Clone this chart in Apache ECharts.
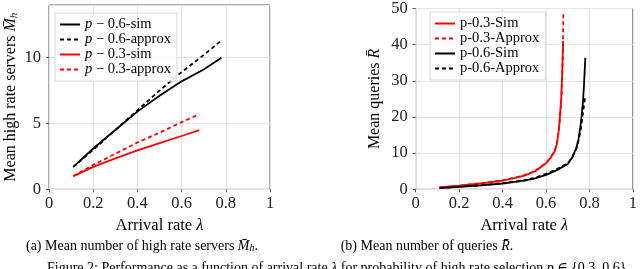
<!DOCTYPE html>
<html><head><meta charset="utf-8">
<script src="https://cdn.jsdelivr.net/npm/echarts@6/dist/echarts.min.js"></script>
<style>html,body{margin:0;padding:0;background:#fff}#c{width:640px;height:269px}</style>
</head><body><div id="c"></div>
<script>
// ---- Left panel: mean number of high rate servers ----
const lamA06 = [0.11, 0.2, 0.3, 0.4, 0.5, 0.6, 0.7, 0.78];
const mh06Sim = [1.7, 3.1, 4.5, 5.9, 7.1, 8.2, 9.1, 10.0];
const mh06Approx = [1.7, 3.0, 4.5, 6.0, 7.5, 8.9, 10.2, 11.3];
const lamA03 = [0.11, 0.2, 0.3, 0.4, 0.5, 0.6, 0.68];
const mh03Sim = [1.0, 1.7, 2.35, 2.95, 3.5, 4.05, 4.5];
const mh03Approx = [1.0, 1.85, 2.7, 3.55, 4.3, 5.1, 5.7];
// ---- Right panel: mean number of queries ----
const lamB03 = [0.11, 0.2, 0.3, 0.4, 0.45, 0.5, 0.55, 0.6, 0.62, 0.64, 0.65, 0.66, 0.67, 0.675, 0.679];
const r03Sim = [0.5, 1.0, 1.6, 2.4, 3.0, 3.8, 5.0, 7.2, 8.6, 10.5, 12.5, 17, 25, 33, 41];
const lamB03a = [0.11, 0.2, 0.3, 0.4, 0.45, 0.5, 0.55, 0.6, 0.62, 0.64, 0.65, 0.66, 0.67, 0.675, 0.678, 0.68];
const r03Approx = [0.5, 1.0, 1.7, 2.5, 3.1, 3.9, 5.1, 7.3, 8.7, 10.6, 12.5, 16.5, 24, 32, 40, 49];
const lamB06 = [0.11, 0.2, 0.3, 0.4, 0.5, 0.55, 0.6, 0.65, 0.7, 0.72, 0.74, 0.75, 0.76, 0.77, 0.775, 0.781];
const r06Sim = [0.3, 0.7, 1.1, 1.6, 2.4, 3.0, 4.0, 5.3, 7.0, 8.7, 11.5, 14, 18, 24, 29, 36.4];
const lamB06a = [0.11, 0.2, 0.3, 0.4, 0.5, 0.55, 0.6, 0.65, 0.7, 0.72, 0.74, 0.75, 0.76, 0.77, 0.78];
const r06Approx = [0.3, 0.7, 1.1, 1.7, 2.5, 3.2, 4.3, 5.6, 7.2, 8.8, 11.3, 13.5, 16.5, 21, 25.5];
const xTicks = [0, 0.2, 0.4, 0.6, 0.8, 1];

const zip = (xs, ys) => xs.map((x, i) => [x, ys[i]]);
const FONT = '"Liberation Serif", "DejaVu Serif", serif';
const RED = '#ff0000', BLACK = '#000000';
const AF = 16.5;
const YF = 16;

function xAxis(gi) {
  return {
    gridIndex: gi, type: 'value', min: 0, max: 1, interval: 0.2,
    name: 'Arrival rate {it|λ}', nameLocation: 'middle', nameGap: 22,
    nameTextStyle: { fontFamily: FONT, fontSize: AF, color: '#000',
      rich: { it: { fontFamily: FONT, fontStyle: 'italic', fontSize: AF, color: '#000' } } },
    axisLine: { show: false },
    axisTick: { show: true, length: 3, inside: false, lineStyle: { color: '#555' } },
    axisLabel: { fontFamily: FONT, fontSize: AF, color: '#222', margin: 6,
      formatter: v => xTicks.indexOf(v) >= 0 ? String(v) : '' },
    splitLine: { show: true, lineStyle: { color: '#e4e4e4', width: 1 } }
  };
}
function yAxis(gi, max, interval, name, rich, gap) {
  return {
    gridIndex: gi, type: 'value', min: 0, max: max, interval: interval,
    name: name, nameLocation: 'middle', nameGap: gap,
    nameTextStyle: { fontFamily: FONT, fontSize: YF, color: '#000', rich: rich },
    axisLine: { show: false },
    axisTick: { show: true, length: 3, lineStyle: { color: '#555' } },
    axisLabel: { fontFamily: FONT, fontSize: AF, color: '#222', margin: 8,
      showMaxLabel: gi === 1 },
    splitLine: { show: true, lineStyle: { color: '#e4e4e4', width: 1 } }
  };
}
function line(name, data, gi, color, dashed) {
  return {
    name: name, type: 'line', xAxisIndex: gi, yAxisIndex: gi, data: data,
    showSymbol: false, symbol: 'none', smooth: false,
    lineStyle: { color: color, width: 1.8, type: dashed ? [4, 3] : 'solid' },
    itemStyle: { color: color }, z: dashed ? 3 : 2
  };
}
const richIt = { it: { fontFamily: FONT, fontStyle: 'italic', fontSize: YF, color: '#000' } };
const LF = 14.5;
const legendText = { fontFamily: FONT, fontSize: LF, color: '#000', lineHeight: 15,
  rich: { it: { fontFamily: FONT, fontStyle: 'italic', fontSize: LF, color: '#000', lineHeight: 15 } } };
const legendCommon = {
  orient: 'vertical', itemWidth: 20, itemHeight: 10, itemGap: 0, padding: [4, 6, 4, 4],
  borderColor: '#d8d8d8', borderWidth: 1, backgroundColor: 'rgba(255,255,255,0.85)',
  textStyle: legendText,
  itemStyle: { color: 'transparent', borderWidth: 0, opacity: 0 }
};
const CF = 14;

const chart = echarts.init(document.getElementById('c'), null, { renderer: 'canvas' });
chart.setOption({
  animation: false,
  grid: [
    { left: 49, right: 370, top: 5, bottom: 79.7, show: true, borderColor: '#555', borderWidth: 1, backgroundColor: 'transparent' },
    { left: 415.7, right: 3.3, top: 5, bottom: 79.7, show: true, borderColor: '#555', borderWidth: 1, backgroundColor: 'transparent' }
  ],
  xAxis: [xAxis(0), xAxis(1)],
  yAxis: [
    yAxis(0, 14, 5, 'Mean high rate servers {it|M̄}{sub|h}',
      { it: richIt.it, sub: { fontFamily: FONT, fontStyle: 'italic', fontSize: 11, color: '#000', verticalAlign: 'bottom', padding: [7, 0, 0, 0] } }, 29),
    yAxis(1, 50, 10, 'Mean queries {it|R̄}', richIt, 33)
  ],
  legend: [
    Object.assign({ data: ['p06sim', 'p06approx', 'p03sim', 'p03approx'], left: 55, top: 13,
      formatter: n => ({ p06sim: '{it|p} − 0.6-sim', p06approx: '{it|p} − 0.6-approx',
        p03sim: '{it|p} − 0.3-sim', p03approx: '{it|p} − 0.3-approx' })[n] }, legendCommon),
    Object.assign({ data: ['b03sim', 'b03approx', 'b06sim', 'b06approx'], left: 430, top: 12,
      formatter: n => ({ b03sim: 'p-0.3-Sim', b03approx: 'p-0.3-Approx',
        b06sim: 'p-0.6-Sim', b06approx: 'p-0.6-Approx' })[n] }, legendCommon)
  ],
  title: [
    { text: '(a) Mean number of high rate servers {it|M̄}{sub|h}.', left: 137, top: 234, textAlign: 'center',
      textStyle: { fontFamily: FONT, fontSize: CF, fontWeight: 'normal', color: '#000',
        rich: { it: { fontFamily: FONT, fontStyle: 'italic', fontSize: CF }, sub: { fontFamily: FONT, fontStyle: 'italic', fontSize: 10, verticalAlign: 'bottom' } } } },
    { text: '(b) Mean number of queries {it|R̄}.', left: 422, top: 234, textAlign: 'center',
      textStyle: { fontFamily: FONT, fontSize: CF, fontWeight: 'normal', color: '#000',
        rich: { it: { fontFamily: FONT, fontStyle: 'italic', fontSize: CF } } } },
    { text: 'Figure 2: Performance as a function of arrival rate {it|λ} for probability of high rate selection {it|p} ∈ {0.3, 0.6}.', left: 42, top: 256,
      textStyle: { fontFamily: FONT, fontSize: CF, fontWeight: 'normal', color: '#000',
        rich: { it: { fontFamily: FONT, fontStyle: 'italic', fontSize: CF } } } }
  ],
  series: [
    line('p06sim', zip(lamA06, mh06Sim), 0, BLACK, false),
    line('p06approx', zip(lamA06, mh06Approx), 0, BLACK, true),
    line('p03sim', zip(lamA03, mh03Sim), 0, RED, false),
    line('p03approx', zip(lamA03, mh03Approx), 0, RED, true),
    line('b03sim', zip(lamB03, r03Sim), 1, RED, false),
    line('b03approx', zip(lamB03a, r03Approx), 1, RED, true),
    line('b06sim', zip(lamB06, r06Sim), 1, BLACK, false),
    line('b06approx', zip(lamB06a, r06Approx), 1, BLACK, true)
  ]
});
</script></body></html>
